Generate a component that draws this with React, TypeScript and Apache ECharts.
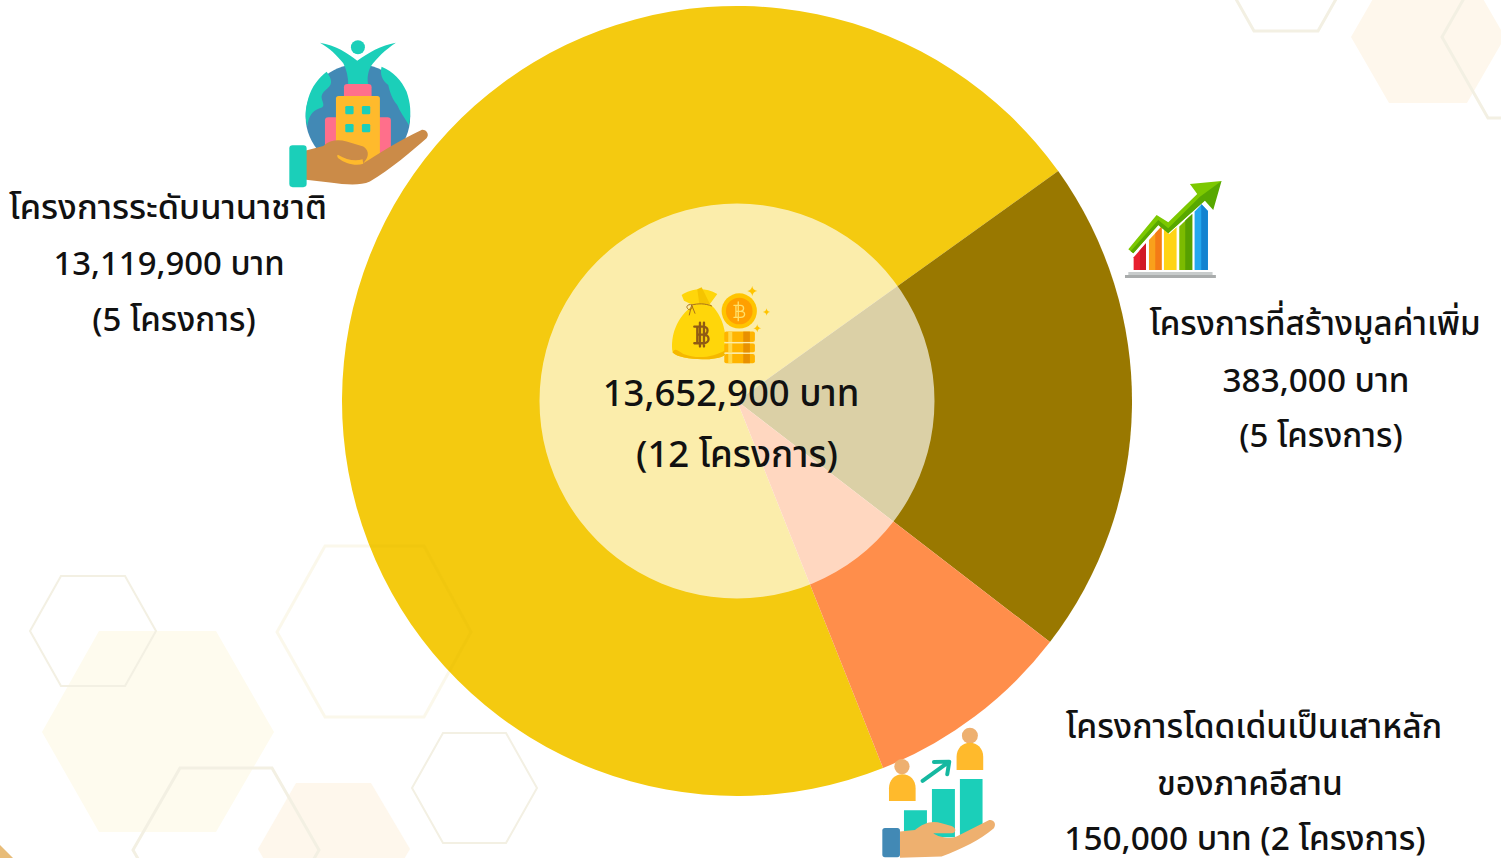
import React, { useEffect, useRef } from "react";
import * as echarts from "echarts";

// ---- data ----
const categories = ["โครงการระดับนานาชาติ", "โครงการที่สร้างมูลค่าเพิ่ม", "โครงการโดดเด่นเป็นเสาหลัก"];
const sliceShares = [256.1, 73.2, 30.7];
const sliceColors = ["#F4CA10", "#997800", "#FF8E4B"];
const amounts = ["13,119,900", "383,000", "150,000"];
const projectCounts = [5, 5, 2];
const totalAmount = "13,652,900";
const totalProjects = 12;

const FONT = "'Noto Sans', 'Noto Sans Thai', 'Noto Sans Thai Looped', 'DejaVu Sans', sans-serif";

// ---- icon helpers ----
const rr = (x: number, y: number, w: number, h: number, r = 0) =>
  r
    ? `M${x + r},${y}H${x + w - r}Q${x + w},${y} ${x + w},${y + r}V${y + h - r}Q${x + w},${y + h} ${x + w - r},${y + h}H${x + r}Q${x},${y + h} ${x},${y + h - r}V${y + r}Q${x},${y} ${x + r},${y}Z`
    : `M${x},${y}H${x + w}V${y + h}H${x}Z`;
const circ = (x: number, y: number, r: number) =>
  `M${x - r},${y}A${r},${r} 0 1,0 ${x + r},${y}A${r},${r} 0 1,0 ${x - r},${y}Z`;
const star = (x: number, y: number, s: number) => {
  const k = s * 0.2;
  return `M${x},${y - s}Q${x + k * 0.3},${y - k} ${x + s},${y}Q${x + k},${y + k * 0.3} ${x},${y + s}Q${x - k * 0.3},${y + k} ${x - s},${y}Q${x - k},${y - k * 0.3} ${x},${y - s}Z`;
};

type Part = { d: string; fill?: string; stroke?: string; w?: number };

const TEAL = "#1BCFB9";
const BLUE = "#4289B5";
const AMBER = "#FFBA2C";
const PINK = "#FF6F8B";
const SKIN = "#EEB06F";

const globeIcon: Part[] = [
  { d: circ(234, 260, 157), fill: BLUE },
  { d: "M140,125C150,140 160,155 148,170C135,185 118,190 128,215C135,235 125,232 108,240C92,250 85,265 82,290C75,260 75,240 85,205C95,170 115,145 140,125Z", fill: TEAL },
  { d: "M305,110C300,130 305,150 325,165C330,185 335,205 352,225C360,245 375,265 387,285C395,250 392,220 380,185C365,150 340,125 305,110Z", fill: TEAL },
  { d: "M120,38C165,45 205,70 232,92C262,70 305,45 348,38C315,60 290,85 272,110C262,130 262,150 265,165L205,165C205,140 200,120 190,100C170,75 150,55 120,38Z", fill: TEAL },
  { d: circ(234, 52, 21), fill: TEAL },
  { d: rr(192, 162, 83, 60, 10), fill: PINK },
  { d: rr(135, 262, 198, 130, 10), fill: PINK },
  { d: rr(168, 198, 132, 205, 8), fill: AMBER },
  { d: rr(196, 228, 25, 25, 4), fill: TEAL },
  { d: rr(246, 228, 25, 25, 4), fill: TEAL },
  { d: rr(196, 282, 25, 25, 4), fill: TEAL },
  { d: rr(246, 282, 25, 25, 4), fill: TEAL },
  { d: "M78,362L130,348C150,330 175,328 200,335L250,350C265,360 268,375 258,390L250,400C290,375 360,330 425,300C440,298 450,315 440,325C400,360 330,420 270,455C240,468 200,465 150,458L78,450Z", fill: "#CB8B48" },
  { d: "M175,375C200,390 225,395 248,388L250,402C225,410 195,400 175,385C170,380 172,374 175,375Z", fill: AMBER },
  { d: rr(28, 346, 52, 126, 10), fill: TEAL },
];

const growthIcon: Part[] = [
  { d: rr(55, 306, 253, 10), fill: "#C8CCCC" },
  { d: rr(45, 315, 273, 9), fill: "#A9ACAC" },
  { d: "M71,262L108,220V300H71Z", fill: "#E8202E" },
  { d: "M90,241L108,220V300H90Z", fill: "#D01A28" },
  { d: "M117,210L155,170V300H117Z", fill: "#F9A11B" },
  { d: "M136,190L155,170V300H136Z", fill: "#F47B16" },
  { d: "M162,178L178,192L200,172V300H162Z", fill: "#FFD414" },
  { d: "M208,170L247,132V300H208Z", fill: "#7CBB00" },
  { d: "M226,152L247,132V300H226Z", fill: "#57A000" },
  { d: "M254,125L275,103L294,123V300H254Z", fill: "#23A7EE" },
  { d: "M274,104L275,103L294,123V300H274Z", fill: "#1383D0" },
  { d: "M55,238L140,135L175,157L262,72L240,42L335,33L285,90L175,190L145,165L70,250Z", fill: "#7CC800" },
  { d: "M62,244L145,150L175,175L270,80L335,33L310,120L285,92L175,190L145,165L70,250Z", fill: "#58A800" },
];

const peopleIcon: Part[] = [
  { d: rr(102, 271, 69, 75), fill: TEAL },
  { d: rr(186, 207, 69, 145), fill: TEAL },
  { d: rr(270, 177, 68, 170), fill: TEAL },
  { d: circ(96, 140, 23), fill: SKIN },
  { d: "M57,243V205C57,180 75,163 97,163C120,163 137,180 137,205V243Z", fill: AMBER },
  { d: circ(300, 47, 24), fill: SKIN },
  { d: "M260,150V110C260,85 278,68 300,68C322,68 340,85 340,110V150Z", fill: AMBER },
  { d: "M158,183L235,127M192,126L238,125L232,163", stroke: "#15B8A0", w: 12 },
  { d: "M90,335L135,330C160,310 185,300 215,310L245,318C262,325 258,340 245,340L190,340C205,352 240,358 260,350L355,302C368,296 382,310 372,325C330,360 280,385 215,410L90,414Z", fill: SKIN },
  { d: rr(37, 324, 53, 88, 8), fill: BLUE },
];

const bagIcon: Part[] = [
  { d: "M72,62L65,45C90,28 130,18 172,42L150,72C190,105 205,170 195,225C170,245 60,242 38,218C30,170 50,110 100,76Z", fill: "#FFD60A" },
  { d: "M38,218C44,202 52,212 70,222C110,238 160,233 197,210L195,225C170,245 60,242 38,218Z", fill: "#F5B800" },
  { d: "M112,28L125,22L150,72L118,72Z", fill: "#F5C400" },
  { d: "M95,75C115,70 135,70 155,78M95,75C85,70 75,80 85,88C92,92 100,85 95,75L88,105M95,75L105,100", stroke: "#A8701A", w: 3 },
  { d: "M112,140V190M103,140H130C147,140 147,164 130,164H112M130,164C151,164 151,190 130,190H103M120,128V200M132,128V200", stroke: "#8F5A14", w: 7 },
  { d: rr(193, 155, 92, 31, 6), fill: "#FFB400" },
  { d: rr(193, 190, 92, 28, 6), fill: "#FFB400" },
  { d: rr(193, 222, 92, 28, 6), fill: "#FFB400" },
  { d: rr(205, 155, 12, 95), fill: "#FFD84A" },
  { d: rr(250, 155, 20, 95), fill: "#E89000" },
  { d: rr(193, 186, 92, 4), fill: "#FBEBAA" },
  { d: rr(193, 218, 92, 4), fill: "#FBEBAA" },
  { d: circ(238, 93, 53), fill: "#FFC400" },
  { d: circ(238, 93, 40), fill: "#FF9F00" },
  { d: "M228,76V112M222,76H242C254,76 254,94 242,94H228M242,94C258,94 258,112 242,112H222M235,66V122", stroke: "#FFE06A", w: 4 },
  { d: star(277, 33, 15), fill: "#FFC400" },
  { d: star(320, 96, 11), fill: "#FFC400" },
  { d: star(292, 145, 12), fill: "#FFC400" },
];

let shapeCounter = 0;
function iconGroup(parts: Part[], x: number, y: number) {
  return {
    type: "group",
    x,
    y,
    scaleX: 1 / 3,
    scaleY: 1 / 3,
    silent: true,
    children: parts.map((p) => {
      const name = `icon-shape-${shapeCounter++}`;
      echarts.graphic.registerShape(name, echarts.graphic.extendPath(p.d, {}));
      return {
        type: name,
        z: 20,
        style: p.stroke
          ? { fill: "none", stroke: p.stroke, lineWidth: p.w, lineCap: "round", lineJoin: "round" }
          : { fill: p.fill },
      };
    }),
  };
}

function hex(points: number[][], style: Record<string, unknown>, z: number) {
  return { type: "polygon", z, silent: true, shape: { points }, style };
}

const OUTLINE = "#F3F0E3";

function buildGraphics() {
  const textLine = (text: string, x: number, y: number, fontSize: number) => ({
    type: "text",
    z: 30,
    x,
    y,
    silent: true,
    style: { text, fontFamily: FONT, fontSize, fontWeight: 500, fill: "#111111", align: "center", verticalAlign: "middle" },
  });
  const baht = "บาท";
  const proj = "โครงการ";
  return [
    hex([[99, 631], [216, 631], [274, 732], [216, 832], [99, 832], [42, 732]], { fill: "#FEFBEE" }, 0),
    hex([[296, 783], [371, 783], [410, 849], [371, 915], [296, 915], [258, 849]], { fill: "#FEF7EC" }, 0),
    hex([[1389, -29], [1467, -29], [1505, 37], [1467, 103], [1389, 103], [1351, 37]], { fill: "#FEF7EC" }, 0),
    hex([[61, 576], [125, 576], [156, 631], [125, 686], [61, 686], [30, 631]], { fill: "none", stroke: OUTLINE, lineWidth: 2 }, 1),
    hex([[180, 768], [272, 768], [319, 850], [272, 932], [180, 932], [133, 850]], { fill: "none", stroke: OUTLINE, lineWidth: 3 }, 1),
    hex([[443, 733], [506, 733], [537, 788], [506, 843], [443, 843], [412, 788]], { fill: "none", stroke: OUTLINE, lineWidth: 2 }, 1),
    hex([[1254, 31], [1318, 31], [1349, -24], [1318, -79], [1254, -79], [1223, -24]], { fill: "none", stroke: OUTLINE, lineWidth: 3 }, 1),
    hex([[1442, 37], [1488, 118], [1580, 118], [1626, 37], [1580, -44], [1488, -44]], { fill: "none", stroke: OUTLINE, lineWidth: 3 }, 1),
    hex([[325, 546], [424, 546], [471, 632], [424, 717], [325, 717], [277, 632]], { fill: "none", stroke: "rgba(200,170,0,0.08)", lineWidth: 3 }, 10),
    hex([[0, 845], [13, 858], [0, 858]], { fill: "#E8BC78" }, 1),

    iconGroup(globeIcon, 280, 30),
    iconGroup(growthIcon, 1110, 170),
    iconGroup(peopleIcon, 870, 720),
    iconGroup(bagIcon, 660, 280),

    textLine(categories[0], 168, 205, 34.3),
    textLine(`${amounts[0]} ${baht}`, 169, 262, 32.9),
    textLine(`(${projectCounts[0]} ${proj})`, 174, 318, 33),

    textLine(categories[1], 1315, 322, 33.1),
    textLine(`${amounts[1]} ${baht}`, 1316, 379, 33.3),
    textLine(`(${projectCounts[1]} ${proj})`, 1321, 434, 33),

    textLine(categories[2], 1254, 725, 33.6),
    textLine("ของภาคอีสาน", 1250, 782, 33.6),
    textLine(`${amounts[2]} ${baht} (${projectCounts[2]} ${proj})`, 1245, 836.5, 33.4),

    textLine(`${totalAmount} ${baht}`, 731, 392, 36.5),
    textLine(`(${totalProjects} ${proj})`, 737, 453, 36.6),
  ];
}

export default function App() {
  const ref = useRef<HTMLDivElement>(null);
  useEffect(() => {
    document.body.style.margin = "0";
    const chart = echarts.init(ref.current!, null, { renderer: "svg" });
    chart.setOption({
      animation: false,
      backgroundColor: "#FFFFFF",
      series: [
        {
          type: "pie",
          center: [737, 401],
          radius: [0, 395],
          startAngle: 291.7,
          clockwise: true,
          silent: true,
          label: { show: false },
          labelLine: { show: false },
          data: categories.map((name, i) => ({
            name,
            value: sliceShares[i],
            itemStyle: { color: sliceColors[i] },
          })),
        },
        {
          type: "pie",
          center: [737, 401],
          radius: [0, 197.5],
          z: 3,
          silent: true,
          label: { show: false },
          labelLine: { show: false },
          data: [{ name: "รวม", value: 1, itemStyle: { color: "rgba(255,255,255,0.65)" } }],
        },
      ],
      graphic: { elements: buildGraphics() },
    });
    return () => chart.dispose();
  }, []);
  return <div ref={ref} style={{ position: "fixed", left: 0, top: 0, width: 1501, height: 858 }} />;
}
